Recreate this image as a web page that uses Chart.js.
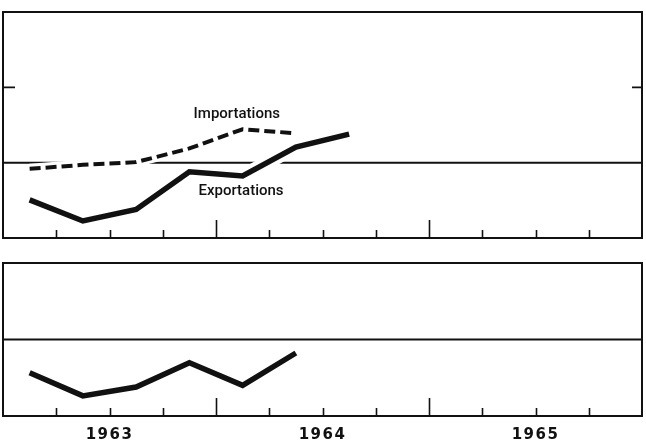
<!DOCTYPE html>
<html>
<head>
<meta charset="utf-8">
<script src="https://cdn.jsdelivr.net/npm/chart.js@4"></script>
<style>
  html, body { margin: 0; padding: 0; background: #fff; overflow: hidden; }
  #wrap { position: relative; width: 646px; height: 445px; }
  .panel { position: absolute; left: 0; width: 646px; }
  #topPanel { top: 0; height: 250px; }
  #bottomPanel { top: 250px; height: 204px; }
</style>
</head>
<body>
<div id="wrap">
  <div class="panel" id="topPanel"><canvas id="tradeChart"></canvas></div>
  <div class="panel" id="bottomPanel"><canvas id="ratioChart"></canvas></div>
</div>
<script>
// Trimestres depuis janvier 1963 (0 = début 1963, 12 = fin 1965)
const quarterMid = [0.5, 1.5, 2.5, 3.5, 4.5, 5.5, 6.5];
const exportations = [71, 58.5, 65, 92, 88.5, 115.5, 130];
const importations = [94.5, 98, 100.5, 114, 136, 131];
const ratio = [74, 60, 65, 81, 66, 88.5];

const yearLabels = ["1963", "1964", "1965"];
const yearCenters = [2, 6, 10];
const quarterTicks = [1, 2, 3, 4, 5, 6, 7, 8, 9, 10, 11];
const yearBounds = [4, 8];

const INK = "#111";

function toPoints(values) {
  return values.map((v, i) => ({ x: quarterMid[i], y: v }));
}

// cadre, ligne de base 100 et graduations
const framePlugin = {
  id: "frame",
  beforeDatasetsDraw(chart, args, opts) {
    const { ctx, chartArea: a, scales } = chart;
    const y = scales.y.getPixelForValue(100);
    ctx.save();
    ctx.strokeStyle = INK;
    ctx.lineWidth = 2;
    ctx.beginPath();
    ctx.moveTo(a.left, y);
    ctx.lineTo(a.right, y);
    ctx.stroke();
    ctx.restore();
  },
  afterDraw(chart, args, opts) {
    const { ctx, chartArea: a, scales } = chart;
    ctx.save();
    ctx.strokeStyle = INK;
    ctx.lineWidth = 2;
    ctx.strokeRect(a.left, a.top, a.right - a.left, a.bottom - a.top);

    ctx.lineWidth = 1.6;
    quarterTicks.forEach((q) => {
      const x = Math.round(scales.x.getPixelForValue(q)) + 0.5;
      const len = yearBounds.includes(q) ? 18 : 8;
      ctx.beginPath();
      ctx.moveTo(x, a.bottom);
      ctx.lineTo(x, a.bottom - len);
      ctx.stroke();
    });

    // petits repères sur les côtés
    (opts.sideTicks || []).forEach((v) => {
      const y = scales.y.getPixelForValue(v);
      ctx.beginPath();
      ctx.moveTo(a.left, y);
      ctx.lineTo(a.left + 12, y);
      ctx.moveTo(a.right, y);
      ctx.lineTo(a.right - 10, y);
      ctx.stroke();
    });

    // noms des courbes
    ctx.fillStyle = INK;
    ctx.font = "500 15px Roboto";
    ctx.textAlign = "center";
    ctx.textBaseline = "alphabetic";
    (opts.notes || []).forEach((n) => {
      ctx.fillText(n.text, scales.x.getPixelForValue(n.x), scales.y.getPixelForValue(n.y));
    });
    ctx.restore();
  },
};

// espacement des lettres pour les années
const spacingPlugin = {
  id: "spacing",
  beforeDraw(chart) {
    chart.ctx.letterSpacing = "1.5px";
  },
};

function xScale(showYears) {
  return {
    type: "linear",
    min: 0,
    max: 12,
    display: showYears,
    grid: { display: false, drawTicks: false },
    border: { display: false },
    afterBuildTicks: (axis) => {
      axis.ticks = yearCenters.map((v) => ({ value: v }));
    },
    ticks: {
      padding: 10,
      autoSkip: false,
      maxRotation: 0,
      color: INK,
      font: { family: "DejaVu Sans", weight: "bold", size: 15 },
      callback: (v) => yearLabels[yearCenters.indexOf(v)],
    },
  };
}

function yScale(min, max) {
  return { type: "logarithmic", min: min, max: max, display: false };
}

function lineSet(data, width, dash, color, order) {
  return {
    data: data,
    borderColor: color,
    borderWidth: width,
    borderDash: dash,
    borderCapStyle: "butt",
    borderJoinStyle: "miter",
    pointRadius: 0,
    tension: 0,
    fill: false,
    order: order,
  };
}

document.addEventListener("DOMContentLoaded", () => {
  Chart.defaults.animation = false;
  Chart.defaults.responsive = true;
  Chart.defaults.maintainAspectRatio = false;
  Chart.defaults.plugins.legend.display = false;
  Chart.defaults.plugins.tooltip.enabled = false;

  const exp = toPoints(exportations);
  const imp = toPoints(importations);

  new Chart(document.getElementById("tradeChart"), {
    type: "line",
    data: {
      datasets: [
        lineSet(exp, 5.5, [], INK, 1),
        lineSet(imp, 4, [11, 5], INK, 1),
        lineSet(exp, 14, [], "#fff", 2),
        lineSet(imp, 10, [], "#fff", 2),
      ],
    },
    options: {
      layout: { padding: { left: 3, right: 4, top: 12, bottom: 12 } },
      scales: { x: xScale(false), y: yScale(50, 400) },
      plugins: {
        frame: {
          sideTicks: [200],
          notes: [
            { text: "Importations", x: 4.39, y: 151 },
            { text: "Exportations", x: 4.47, y: 74.5 },
          ],
        },
      },
    },
    plugins: [framePlugin],
  });

  new Chart(document.getElementById("ratioChart"), {
    type: "line",
    data: {
      datasets: [lineSet(toPoints(ratio), 5.5, [], INK, 1)],
    },
    options: {
      layout: { padding: { left: 3, right: 4, top: 13, bottom: 0 } },
      scales: { x: xScale(true), y: yScale(50, 200) },
      plugins: { frame: { sideTicks: [], notes: [] } },
    },
    plugins: [spacingPlugin, framePlugin],
  });
});
</script>
</body>
</html>
